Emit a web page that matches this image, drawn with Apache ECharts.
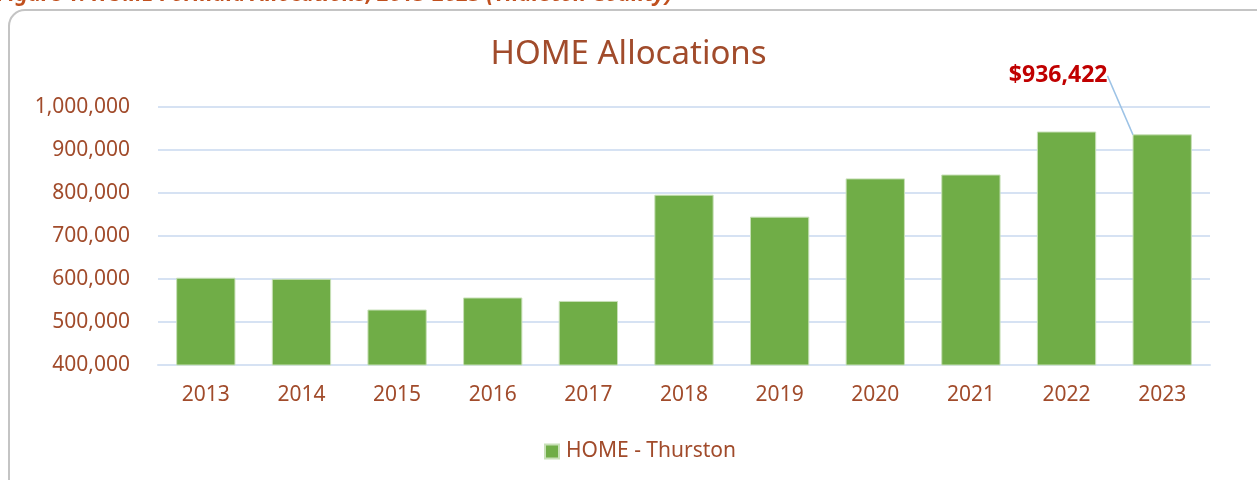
<!doctype html>
<html>
<head>
<meta charset="UTF-8">
<title>HOME Allocations</title>
<script src="https://cdn.jsdelivr.net/npm/echarts@6/dist/echarts.min.js"></script>
<style>
  html, body { margin: 0; padding: 0; background: #fff; }
  #chart { width: 1257px; height: 480px; }
</style>
</head>
<body>
<div id="chart"></div>
<script>
var years = ['2013', '2014', '2015', '2016', '2017', '2018', '2019', '2020', '2021', '2022', '2023'];
var homeThurston = [603000, 600500, 529000, 557000, 549000, 796000, 745000, 834000, 843000, 943000, 936422];
var yTicks = [400000, 500000, 600000, 700000, 800000, 900000, 1000000];

var brown = '#A14B2B';
var chart = echarts.init(document.getElementById('chart'));

function fmt(v) {
  return String(v).replace(/\B(?=(\d{3})+(?!\d))/g, ',');
}

chart.setOption({
  animation: false,
  textStyle: { fontFamily: 'Noto Sans' },
  title: {
    text: 'HOME Allocations',
    left: 'center',
    top: 33,
    textStyle: { color: brown, fontSize: 33, fontWeight: 'normal', fontFamily: 'Noto Sans' }
  },
  graphic: [
    {
      type: 'rect',
      shape: { x: 9, y: 10, width: 1270, height: 490, r: 16 },
      style: { fill: 'none', stroke: '#C4C4C4', lineWidth: 2 },
      z: -1
    },
    {
      type: 'text',
      x: -3,
      y: 6,
      style: {
        text: 'Figure 1: HOME Formula Allocations, 2013-2023 (Thurston County)',
        fill: '#C0501E',
        font: 'italic bold 21.8px "Noto Sans"',
        verticalAlign: 'bottom'
      }
    }
  ],
  legend: {
    data: ['HOME - Thurston'],
    bottom: 13,
    left: 539,
    itemWidth: 14,
    itemHeight: 14,
    icon: 'rect',
    textStyle: { color: brown, fontSize: 21, fontFamily: 'Noto Sans', padding: [0, 0, 0, 2] }
  },
  grid: { left: 158, right: 47, top: 107, bottom: 115 },
  xAxis: {
    type: 'category',
    data: years,
    axisTick: { show: false },
    axisLine: { lineStyle: { color: '#D6E2F3', width: 2 } },
    axisLabel: { color: brown, fontSize: 21, margin: 20 }
  },
  yAxis: {
    type: 'value',
    min: yTicks[0],
    max: yTicks[yTicks.length - 1],
    interval: 100000,
    axisLine: { show: false },
    axisTick: { show: false },
    splitLine: { lineStyle: { color: '#D6E2F3', width: 2 } },
    axisLabel: { color: brown, fontSize: 21, margin: 28, formatter: fmt }
  },
  series: [{
    name: 'HOME - Thurston',
    type: 'bar',
    data: homeThurston.map(function (v, i) {
      if (i === homeThurston.length - 1) {
        return {
          value: v,
          label: {
            show: true,
            position: 'top',
            formatter: function (p) { return '$' + fmt(p.value); },
            color: '#C00000',
            fontWeight: 'bold',
            fontSize: 23,
            fontFamily: 'Noto Sans'
          },
          labelLine: { show: true, lineStyle: { color: '#9DC3E6', width: 1.5 } }
        };
      }
      return v;
    }),
    barCategoryGap: '38%',
    itemStyle: { color: '#70AD47', borderColor: '#C8E0B8', borderWidth: 1 },
    labelLayout: function (params) {
      if (params.dataIndex !== homeThurston.length - 1) return {};
      return { dx: -104, dy: -42 };
    }
  }]
});
</script>
</body>
</html>
